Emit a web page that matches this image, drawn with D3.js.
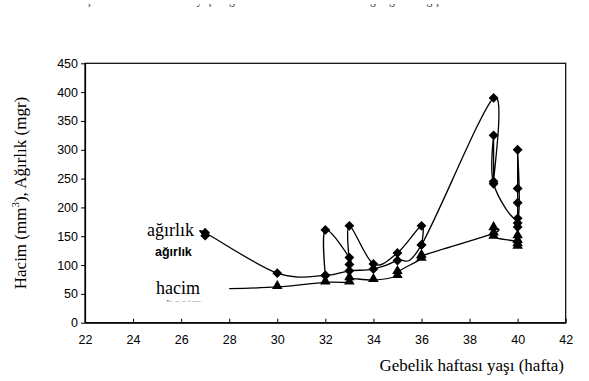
<!DOCTYPE html>
<html>
<head>
<meta charset="utf-8">
<script src="https://cdn.jsdelivr.net/npm/d3@7"></script>
<style>
  body { margin: 0; background: #fff; }
  svg { display: block; }
  .serif { font-family: "Liberation Serif", "Times New Roman", "DejaVu Serif", serif; }
  .sans { font-family: "Liberation Sans", Arial, sans-serif; }
</style>
</head>
<body>
<div id="chart"></div>
<script>
// ağırlık (weight, mgr), two joined runs of points
const weightWeeksA = [27, 27, 30, 32, 33, 34, 35, 36, 39, 39, 39, 39, 40, 40, 40, 40, 40, 40];
const weightValuesA = [151, 156, 86, 82, 90, 93, 108, 135, 390, 245, 325, 241, 181, 300, 233, 208, 173, 166];
const weightWeeksB = [32, 32, 33, 33, 33, 34, 35, 36, 36];
const weightValuesB = [82, 161, 113, 101, 168, 102, 121, 168, 135];

// hacim (volume, mm3); the first point is drawn without a marker
const volumeWeeks = [28, 30, 32, 33, 33, 34, 35, 35, 36, 36, 39, 39, 39, 40, 40, 40, 40];
const volumeValues = [59, 62, 70, 70, 77, 74, 81, 88, 111, 116, 155, 164, 149, 142, 150, 136, 132];

const xTicks = [22, 24, 26, 28, 30, 32, 34, 36, 38, 40, 42];
const yTicks = [0, 50, 100, 150, 200, 250, 300, 350, 400, 450];

const W = 589, H = 381;
const margin = { top: 63.3, right: 23.3, bottom: 58.3, left: 85 };
const width = W - margin.left - margin.right;
const height = H - margin.top - margin.bottom;

const svg = d3.select("#chart")
  .append("svg")
  .attr("width", W)
  .attr("height", H);

// caption cut off at the top of the picture, only its descenders show
svg.append("clipPath").attr("id", "capClip")
  .append("rect").attr("x", 0).attr("y", 4).attr("width", W).attr("height", 10);
svg.append("text")
  .attr("class", "serif")
  .attr("clip-path", "url(#capClip)")
  .attr("x", 86).attr("y", 4)
  .attr("font-size", 11.5)
  .attr("fill", "#333")
  .text("Şekil 1. Gebelik haftası yaşına göre sürrenal bezin hacim ve ağırlığının değişimi");

const g = svg.append("g")
  .attr("transform", "translate(" + margin.left + "," + margin.top + ")");

const x = d3.scaleLinear().domain([22, 42]).range([0, width]);
const y = d3.scaleLinear().domain([0, 450]).range([height, 0]);

// frame
g.append("rect")
  .attr("x", 0).attr("y", 0)
  .attr("width", width).attr("height", height)
  .attr("fill", "none")
  .attr("stroke", "#000")
  .attr("stroke-width", 1.2);

// X axis, ticks point inward
const xAxis = g.append("g")
  .attr("transform", "translate(0," + height + ")")
  .call(d3.axisBottom(x).tickValues(xTicks).tickSize(-4).tickPadding(12).tickSizeOuter(0));
xAxis.select(".domain").attr("stroke-width", 1.2);
xAxis.selectAll("text")
  .attr("class", "sans")
  .attr("font-size", 12.5)
  .attr("fill", "#000");

// Y axis
const yAxis = g.append("g")
  .call(d3.axisLeft(y).tickValues(yTicks).tickSize(4).tickPadding(3).tickSizeOuter(0));
yAxis.select(".domain").attr("stroke-width", 1.2);
yAxis.selectAll("text")
  .attr("class", "sans")
  .attr("font-size", 12.5)
  .attr("fill", "#000");

// axis titles
svg.append("text")
  .attr("class", "serif")
  .attr("x", 564).attr("y", 371)
  .attr("text-anchor", "end")
  .attr("font-size", 17)
  .text("Gebelik haftası yaşı (hafta)");

const yTitle = svg.append("text")
  .attr("class", "serif")
  .attr("transform", "translate(26,193) rotate(-90)")
  .attr("text-anchor", "middle")
  .attr("font-size", 17);
yTitle.append("tspan").text("Hacim (mm");
yTitle.append("tspan").attr("dy", -7).attr("font-size", 11).text("3");
yTitle.append("tspan").attr("dy", 7).text("), Ağırlık (mgr)");

const toPoints = (weeks, values) => weeks.map((w, i) => ({ week: w, value: values[i] }));
const weightA = toPoints(weightWeeksA, weightValuesA);
const weightB = toPoints(weightWeeksB, weightValuesB);
const volume = toPoints(volumeWeeks, volumeValues);

const line = d3.line()
  .x(d => x(d.week))
  .y(d => y(d.value))
  .curve(d3.curveCardinal.tension(0));

[weightA, weightB, volume].forEach(series => {
  g.append("path")
    .datum(series)
    .attr("fill", "none")
    .attr("stroke", "#000")
    .attr("stroke-width", 1.3)
    .attr("d", line);
});

// markers
const diamond = d3.symbol().type(d3.symbolDiamond2).size(62);
g.selectAll(".w")
  .data(weightA.concat(weightB))
  .join("path")
  .attr("class", "w")
  .attr("transform", d => "translate(" + x(d.week) + "," + y(d.value) + ")")
  .attr("d", diamond)
  .attr("fill", "#000");

const tri = d3.symbol().type(d3.symbolTriangle).size(48);
g.selectAll(".v")
  .data(volume.slice(1))
  .join("path")
  .attr("class", "v")
  .attr("transform", d => "translate(" + x(d.week) + "," + (y(d.value) - 1) + ")")
  .attr("d", tri)
  .attr("fill", "#000");

// in-chart labels
svg.append("text")
  .attr("class", "serif")
  .attr("x", 147).attr("y", 236)
  .attr("font-size", 18)
  .text("ağırlık");
svg.append("text")
  .attr("class", "sans")
  .attr("x", 155).attr("y", 256)
  .attr("font-size", 12.5)
  .attr("font-weight", "bold")
  .text("ağırlık");
svg.append("text")
  .attr("class", "serif")
  .attr("x", 156).attr("y", 294)
  .attr("font-size", 18)
  .text("hacim");
// second hacim label, almost fully hidden, only its top edge shows
svg.append("clipPath").attr("id", "hacimClip")
  .append("rect").attr("x", 150).attr("y", 300).attr("width", 70).attr("height", 1.5);
svg.append("text")
  .attr("class", "sans")
  .attr("clip-path", "url(#hacimClip)")
  .attr("x", 166).attr("y", 307.5)
  .attr("font-size", 12.5)
  .attr("font-weight", "bold")
  .attr("fill", "#777")
  .text("hacim");
</script>
</body>
</html>
